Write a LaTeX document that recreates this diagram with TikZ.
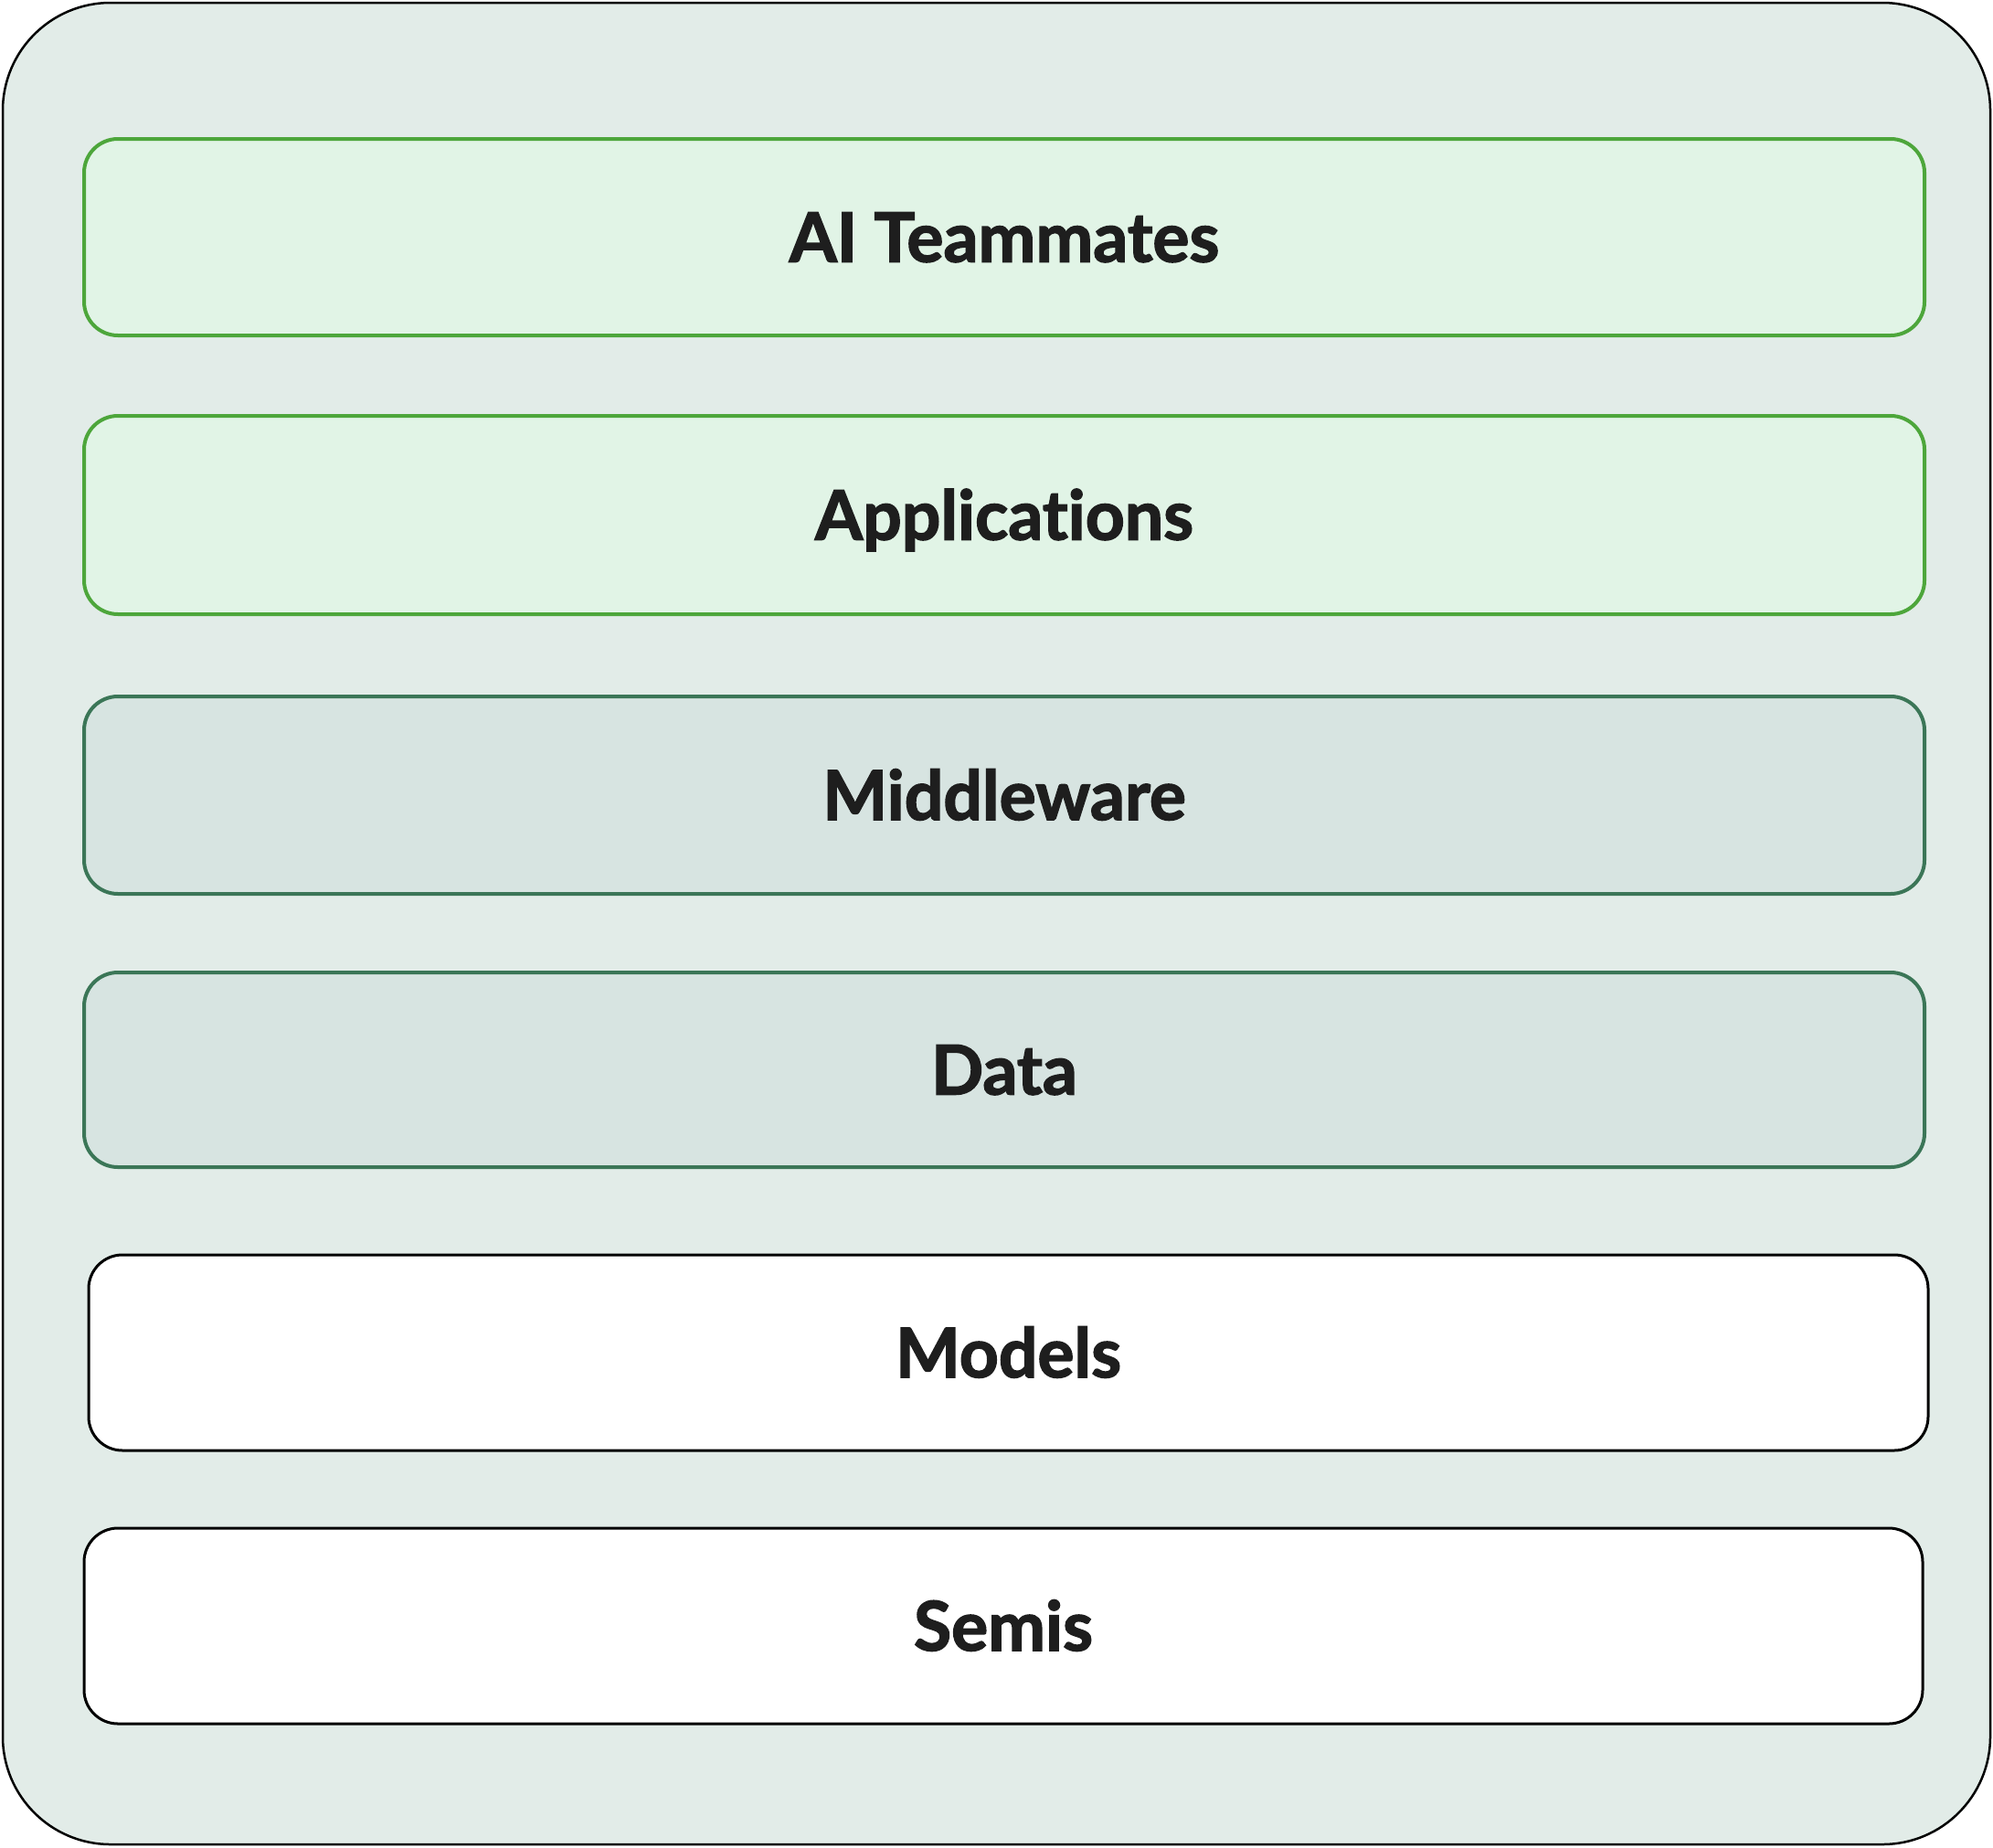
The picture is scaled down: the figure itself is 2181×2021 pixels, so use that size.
\documentclass[tikz,border=0pt]{standalone}
\usepackage{fontspec}
\setmainfont{Lato}[Ligatures=NoCommon, BoldFeatures={FakeBold=2}]
\definecolor{outerfill}{HTML}{E2ECE8}
\definecolor{greenfill}{HTML}{E1F4E6}
\definecolor{greenline}{HTML}{4DA63B}
\definecolor{darkfill}{HTML}{D7E4E1}
\definecolor{darkline}{HTML}{3B7657}
\definecolor{txt}{HTML}{1E1E1E}
\tikzset{
  layer/.style={rectangle, rounded corners=37pt, inner sep=0pt, minimum width=2014pt, minimum height=215pt,
    text height=54pt, text depth=0pt,
    font=\fontsize{75}{90}\selectfont\bfseries, text=txt},
  greenlayer/.style={layer, draw=greenline, fill=greenfill, line width=4pt},
  darklayer/.style={layer, draw=darkline, fill=darkfill, line width=4pt},
  whitelayer/.style={layer, draw=black, fill=white, line width=3pt},
}
\begin{document}
\begin{tikzpicture}[x=1pt,y=-1pt]
\useasboundingbox (0,0) rectangle (2181,2021);
\node[draw=black, fill=outerfill, line width=2.5pt, rounded corners=118pt, minimum width=2175pt, minimum height=2015pt, inner sep=0pt] (frame) at (1090.5,1010.5) {};
\node[greenlayer] (ai) at (1099,259.5) {AI Teammates};
\node[greenlayer, minimum height=217pt] (app) at (1099,563.5) {Applications};
\node[darklayer, minimum height=216pt] (mid) at (1099,870) {Middleware};
\node[darklayer, minimum height=213pt] (data) at (1099,1170.5) {Data};
\node[whitelayer, minimum width=2013pt, minimum height=214pt] (models) at (1103.5,1480) {Models};
\node[whitelayer, minimum width=2012pt, minimum height=214pt] (semis) at (1098,1779) {Semis};
\end{tikzpicture}
\end{document}
